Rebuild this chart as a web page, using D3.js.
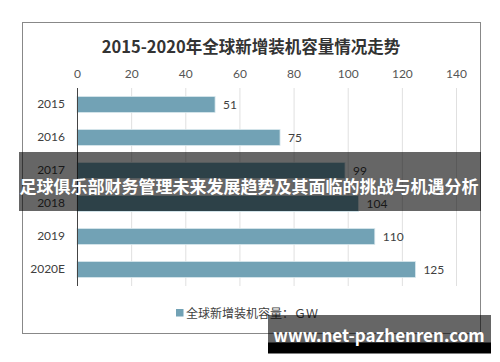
<!DOCTYPE html>
<html lang="zh">
<head>
	<meta charset="UTF-8">
	<script src="https://d3js.org/d3.v7.min.js"></script>
	<title>2015-2020年全球新增装机容量情况走势</title>
	<style>
		body { margin: 0; background: #fff; }
		svg { display: block; }
		text { font-family: "Noto Sans CJK SC", "Open Sans", sans-serif; }
		.num { font-family: Lato, "Open Sans", sans-serif; }
	</style>
</head>
<body>
	<svg width="500" height="362"></svg>

	<script>
		const years = ['2015', '2016', '2017', '2018', '2019', '2020E'];
		const capacity = [51, 75, 99, 104, 110, 125];
		const ticks = [0, 20, 40, 60, 80, 100, 120, 140];
		const seriesName = '全球新增装机容量：ＧＷ';
		const chartTitle = '2015-2020年全球新增装机容量情况走势';
		const bannerText = '足球俱乐部财务管理未来发展趋势及其面临的挑战与机遇分析';
		const siteText = 'www.net-pazhenren.com';

		const svg = d3.select('svg');
		const barColor = '#72a2b5';

		// chart frame
		svg.append('rect')
			.attr('x', 22.5).attr('y', 22.5)
			.attr('width', 458).attr('height', 311)
			.attr('fill', '#fff')
			.attr('stroke', '#888')
			.attr('stroke-width', 1);

		svg.append('text')
			.attr('x', 251).attr('y', 53)
			.attr('text-anchor', 'middle')
			.attr('font-size', 16.5)
			.attr('font-weight', 'bold')
			.attr('fill', '#333')
			.text(chartTitle);

		const x = d3.scaleLinear().domain([0, 140]).range([77, 456]);
		const y = d3.scaleBand().domain(years).range([88, 286]).paddingInner(0.52).paddingOuter(0.26);

		// grid
		svg.append('g')
			.selectAll('line')
			.data(ticks.slice(1))
			.enter()
			.append('line')
			.attr('x1', d => x(d) + 0.5).attr('x2', d => x(d) + 0.5)
			.attr('y1', 88).attr('y2', 286)
			.attr('stroke', '#e0e0e0');

		const axisTop = d3.axisTop(x).tickValues(ticks).tickSize(0).tickPadding(0);
		const gx = svg.append('g')
			.attr('transform', 'translate(0,78)')
			.call(axisTop);
		gx.select('.domain').remove();
		gx.selectAll('text')
			.attr('class', 'num')
			.attr('font-size', 12)
			.attr('fill', '#555');

		// bars
		svg.append('g')
			.selectAll('rect')
			.data(years)
			.enter()
			.append('rect')
			.attr('x', x(0))
			.attr('y', d => y(d))
			.attr('width', (d, i) => x(capacity[i]) - x(0))
			.attr('height', y.bandwidth())
			.attr('fill', barColor)
			.attr('stroke', '#d6e6ec')
			.attr('stroke-width', 0.8);

		// value labels
		svg.append('g')
			.selectAll('text')
			.data(years)
			.enter()
			.append('text')
			.attr('class', 'num')
			.attr('x', (d, i) => x(capacity[i]) + 8)
			.attr('y', d => y(d) + y.bandwidth() / 2 + 4.5)
			.attr('font-size', 12)
			.attr('fill', '#404040')
			.text((d, i) => capacity[i]);

		// category axis
		const gy = svg.append('g')
			.attr('transform', 'translate(' + x(0) + ',0)')
			.call(d3.axisLeft(y).tickSize(0).tickPadding(12));
		gy.select('.domain').attr('stroke', '#444').attr('d', 'M0.5,88V286');
		gy.selectAll('text')
			.attr('class', 'num')
			.attr('font-size', 12)
			.attr('fill', '#404040');

		// legend
		const legend = svg.append('g').attr('transform', 'translate(176,309)');
		legend.append('rect')
			.attr('width', 7.5).attr('height', 7.5)
			.attr('fill', barColor);
		legend.append('text')
			.attr('x', 10).attr('y', 8.5)
			.attr('font-size', 12)
			.attr('fill', '#404040')
			.text(seriesName);

		// overlay banner
		svg.append('rect')
			.attr('x', 19).attr('y', 152)
			.attr('width', 462).attr('height', 59)
			.attr('fill', 'rgba(0,0,0,0.6)');
		svg.append('text')
			.attr('x', 249).attr('y', 193)
			.attr('text-anchor', 'middle')
			.attr('font-size', 17)
			.attr('font-weight', 'bold')
			.attr('fill', '#fff')
			.text(bannerText);

		// site watermark
		svg.append('rect')
			.attr('x', 268).attr('y', 315)
			.attr('width', 223).attr('height', 28)
			.attr('fill', 'rgba(0,0,0,0.6)');
		svg.append('rect')
			.attr('x', 268).attr('y', 342.5)
			.attr('width', 223).attr('height', 11)
			.attr('fill', '#000');
		svg.append('text')
			.attr('x', 379).attr('y', 342)
			.attr('text-anchor', 'middle')
			.attr('font-family', '"Open Sans", sans-serif')
			.attr('font-size', 17)
			.attr('font-weight', 'bold')
			.attr('fill', '#fff')
			.text(siteText);
	</script>
</body>
</html>
